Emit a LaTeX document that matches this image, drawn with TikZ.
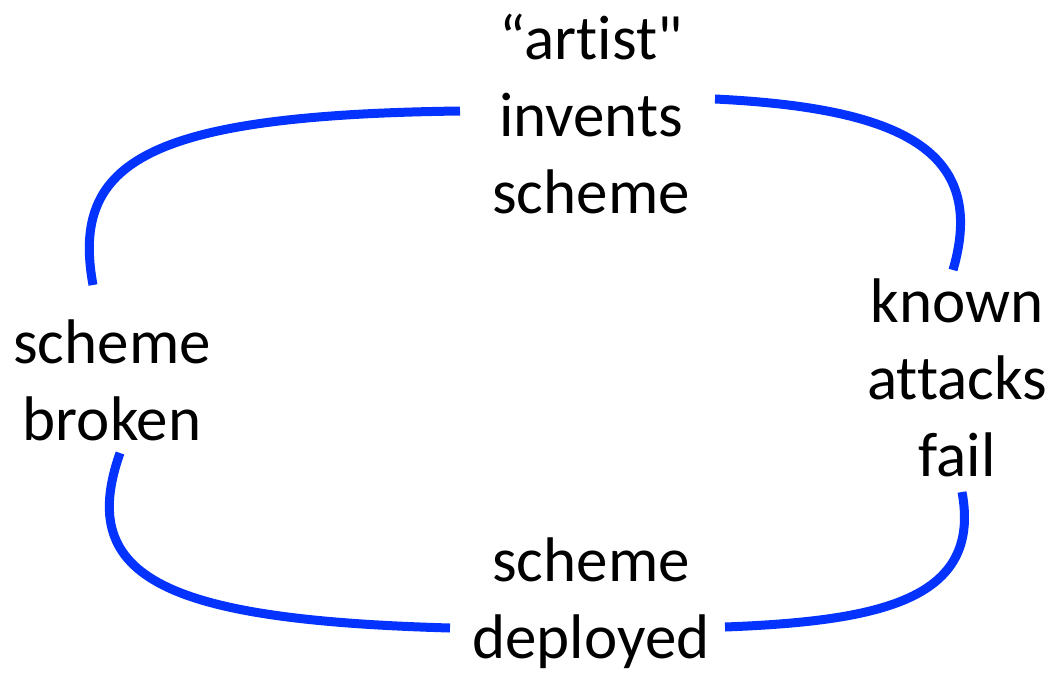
\documentclass[tikz,border=0pt]{standalone}
\usepackage{fontspec}
\newfontfamily\carl{Carlito}[Ligatures={NoCommon}]
\definecolor{cycleblue}{HTML}{0433FF}
\begin{document}
\begin{tikzpicture}[x=1pt,y=-1pt,
  lbl/.style={align=center,inner sep=0pt,font=\carl\fontsize{63}{77}\selectfont},
  arc/.style={draw=cycleblue,line width=9pt}]
\useasboundingbox (0,0) rectangle (1054,675);
\node[lbl] (invent) at (591,114) {“artist"\\invents\\scheme};
\node[lbl] (fail) at (957,378) {known\\attacks\\fail};
\node[lbl] (deploy) at (591,603) {scheme\\deployed};
\node[lbl] (broken) at (112,380) {scheme\\broken};
\coordinate (a1) at (715,99);
\coordinate (a2) at (953,270);
\coordinate (b1) at (962,492);
\coordinate (b2) at (725,627);
\coordinate (c1) at (450,628);
\coordinate (c2) at (120,453);
\coordinate (d1) at (93,285);
\coordinate (d2) at (460,111);
\draw[arc] (a1) .. controls (900,108) and (988,150) .. (a2);
\draw[arc] (b1) .. controls (982,600) and (880,621) .. (b2);
\draw[arc] (c1) .. controls (170,620) and (75,580) .. (c2);
\draw[arc] (d1) .. controls (70,160) and (150,115) .. (d2);
\end{tikzpicture}
\end{document}
